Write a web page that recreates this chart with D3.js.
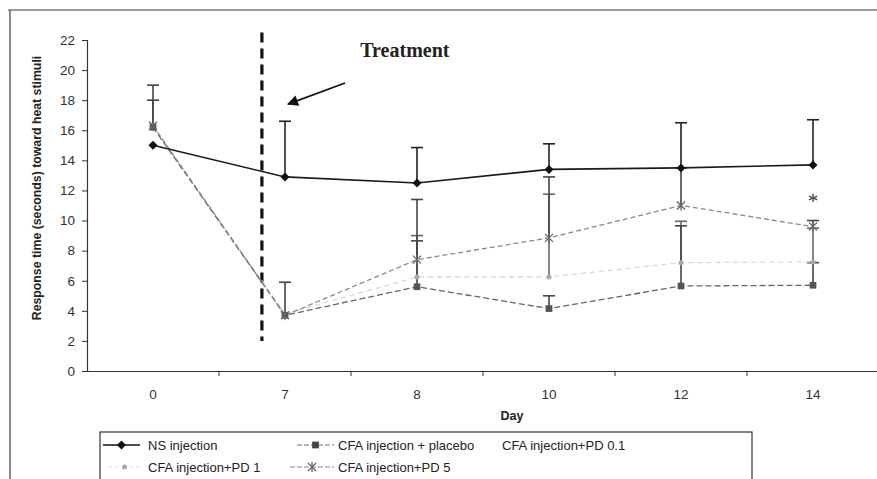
<!DOCTYPE html>
<html>
<head>
<meta charset="utf-8">
<script src="https://cdn.jsdelivr.net/npm/d3@7"></script>
<style>
  html, body { margin: 0; padding: 0; background: #fff; }
  svg { display: block; font-family: "Liberation Sans", Arial, sans-serif; }
</style>
</head>
<body>
<svg id="chart" width="877" height="479"></svg>
<script>
// ---------- data ----------
const days = ["0", "7", "8", "10", "12", "14"];
const yTicks = [0, 2, 4, 6, 8, 10, 12, 14, 16, 18, 20, 22];

const nsValues      = [15.0, 12.9, 12.5, 13.4, 13.5, 13.7];
const nsTop         = [null, 16.6, 14.85, 15.1, 16.5, 16.7];

const placeboValues = [16.2, 3.7, 5.6, 4.15, 5.65, 5.7];
const placeboTop    = [18.0, 5.9, 8.65, 5.0, 9.65, 7.2];

const pd01Values    = [];   // legend entry only (no visible marks)

const pd1Values     = [16.3, 3.8, 6.25, 6.25, 7.2, 7.25];
const pd1Top        = [null, null, 9.0, 11.75, 9.95, 9.5];

const pd5Values     = [16.3, 3.7, 7.4, 8.85, 11.0, 9.6];
const pd5Top        = [19.0, null, 11.4, 12.9, 13.5, 10.0];

const seriesNames = ["NS injection", "CFA injection + placebo", "CFA injection+PD 0.1",
                     "CFA injection+PD 1", "CFA injection+PD 5"];

const xLabel = "Day";
const yLabel = "Response time (seconds) toward heat stimuli";
const treatmentLabel = "Treatment";
const sigMark = { day: "14", value: 11.6, text: "*" };

// ---------- layout ----------
const SERIF = "'Liberation Serif', 'Times New Roman', serif";
const SANS = "'Liberation Sans', Arial, sans-serif";
const svg = d3.select("#chart");
const mLeft = 87, mRight = 879, mTop = 40, mBottom = 371;

const x = d3.scaleBand().domain(days).range([mLeft, mRight]).padding(0);
const xc = d => x(d) + x.bandwidth() / 2;
const y = d3.scaleLinear().domain([0, 22]).range([mBottom, mTop]);

// outer frame (partial, as in scan)
svg.append("line").attr("x1", 8).attr("x2", 877).attr("y1", 10).attr("y2", 10)
  .attr("stroke", "#777").attr("stroke-width", 1.5);
svg.append("line").attr("x1", 10).attr("x2", 10).attr("y1", 10).attr("y2", 479)
  .attr("stroke", "#666").attr("stroke-width", 1.5);

// y axis
const yAxis = svg.append("g").attr("transform", `translate(${mLeft},0)`)
  .call(d3.axisLeft(y).tickValues(yTicks).tickSize(5).tickPadding(7).tickFormat(d3.format("d")));
yAxis.select(".domain").attr("stroke", "#333").attr("stroke-width", 1.2);
yAxis.selectAll(".tick line").attr("stroke", "#333");
yAxis.selectAll("text").attr("font-size", 13.5).attr("fill", "#333").style("font-family", SANS);

// x axis
const xAxis = svg.append("g").attr("transform", `translate(0,${mBottom})`)
  .call(d3.axisBottom(x).tickSize(0).tickPadding(18).tickSizeOuter(0));
xAxis.select(".domain").attr("stroke", "#333").attr("stroke-width", 1.2);
xAxis.selectAll("text").attr("font-size", 13.5).attr("fill", "#333").style("font-family", SANS);
// tick marks on category boundaries
svg.append("g").selectAll("line").data(days.slice(1)).join("line")
  .attr("x1", d => x(d)).attr("x2", d => x(d))
  .attr("y1", mBottom).attr("y2", mBottom + 5)
  .attr("stroke", "#333");

// axis titles
svg.append("text").attr("x", 512).attr("y", 420).attr("text-anchor", "middle")
  .attr("font-size", 12.5).attr("font-weight", "bold").attr("fill", "#222").text(xLabel);
svg.append("text").attr("transform", `translate(41,${188}) rotate(-90)`)
  .attr("text-anchor", "middle").attr("font-size", 12.3).attr("font-weight", "bold")
  .attr("fill", "#222").text(yLabel);

// treatment dashed line (between day 0 and day 7)
const treatX = x("0") + x.bandwidth() * 1.325;
svg.append("line").attr("x1", treatX).attr("x2", treatX)
  .attr("y1", y(22.5)).attr("y2", y(2))
  .attr("stroke", "#111").attr("stroke-width", 3.2).attr("stroke-dasharray", "10,6");

// error bars (upper only)
function errorBars(vals, tops, color, width) {
  const data = days.map((d, i) => ({ d, v: vals[i], t: tops[i] })).filter(e => e.t != null && e.t > e.v);
  const g = svg.append("g").attr("stroke", color).attr("stroke-width", width);
  g.selectAll(".v").data(data).join("line")
    .attr("x1", e => xc(e.d)).attr("x2", e => xc(e.d))
    .attr("y1", e => y(e.v)).attr("y2", e => y(e.t));
  g.selectAll(".c").data(data).join("line")
    .attr("x1", e => xc(e.d) - 6).attr("x2", e => xc(e.d) + 6)
    .attr("y1", e => y(e.t)).attr("y2", e => y(e.t));
}
errorBars(pd1Values, pd1Top, "#666", 1.6);
errorBars(placeboValues, placeboTop, "#444", 1.6);
errorBars(pd5Values, pd5Top, "#444", 1.6);
errorBars(nsValues, nsTop, "#222", 1.6);

const line = d3.line().x((v, i) => xc(days[i])).y(v => y(v));

// series lines
svg.append("path").datum(pd1Values).attr("d", line).attr("fill", "none")
  .attr("stroke", "#d6d6d6").attr("stroke-width", 1.2).attr("stroke-dasharray", "5,4");
svg.append("path").datum(placeboValues).attr("d", line).attr("fill", "none")
  .attr("stroke", "#666").attr("stroke-width", 1.3).attr("stroke-dasharray", "6,3");
svg.append("path").datum(pd5Values).attr("d", line).attr("fill", "none")
  .attr("stroke", "#8a8a8a").attr("stroke-width", 1.3).attr("stroke-dasharray", "5,3");
svg.append("path").datum(nsValues).attr("d", line).attr("fill", "none")
  .attr("stroke", "#1a1a1a").attr("stroke-width", 1.6);

// markers
const diamond = "M0,-4.5L4.5,0L0,4.5L-4.5,0Z";
const square = d3.symbol().type(d3.symbolSquare).size(45);
const asterisk = "M-4,-4L4,4M-4,4L4,-4M0,-5L0,5";

function drawPD1(g, px, py) {
  g.append("circle").attr("cx", px).attr("cy", py).attr("r", 2.5).attr("fill", "#aaa");
}
function drawPD5(g, px, py) {
  g.append("path").attr("d", asterisk).attr("transform", `translate(${px},${py})`)
    .attr("stroke", "#666").attr("stroke-width", 1.3).attr("fill", "none");
}

svg.append("g").selectAll("circle").data(pd1Values).join("circle")
  .attr("cx", (v, i) => xc(days[i])).attr("cy", v => y(v)).attr("r", 2.5).attr("fill", "#aaa");
svg.append("g").selectAll("path").data(placeboValues).join("path")
  .attr("d", square).attr("transform", (v, i) => `translate(${xc(days[i])},${y(v)})`)
  .attr("fill", "#555");
svg.append("g").selectAll("path").data(pd5Values).join("path")
  .attr("d", asterisk).attr("transform", (v, i) => `translate(${xc(days[i])},${y(v)})`)
  .attr("stroke", "#666").attr("stroke-width", 1.3).attr("fill", "none");
svg.append("g").selectAll("path").data(nsValues).join("path")
  .attr("d", diamond).attr("transform", (v, i) => `translate(${xc(days[i])},${y(v)})`)
  .attr("fill", "#111");

// significance mark
svg.append("text").attr("x", xc(sigMark.day)).attr("y", y(sigMark.value)).attr("dy", "0.55em")
  .attr("text-anchor", "middle").style("font-family", SERIF)
  .attr("font-size", 21).attr("fill", "#333").text(sigMark.text);

// Treatment annotation and arrow
svg.append("text").attr("x", xc("7") + x.bandwidth() * 0.57).attr("y", y(20.86))
  .style("font-family", SERIF)
  .attr("font-size", 20).attr("font-weight", "bold").attr("fill", "#222").text(treatmentLabel);
svg.append("defs").append("marker").attr("id", "ah").attr("viewBox", "0 0 10 10")
  .attr("refX", 9).attr("refY", 5).attr("markerWidth", 14).attr("markerHeight", 11)
  .attr("markerUnits", "userSpaceOnUse").attr("orient", "auto")
  .append("path").attr("d", "M0,0L10,5L0,10Z").attr("fill", "#111");
svg.append("line")
  .attr("x1", xc("7") + x.bandwidth() * 0.455).attr("y1", y(19.14))
  .attr("x2", xc("7") + x.bandwidth() * 0.023).attr("y2", y(17.74))
  .attr("stroke", "#111").attr("stroke-width", 1.8).attr("marker-end", "url(#ah)");

// legend
const lg = svg.append("g");
lg.append("rect").attr("x", 100).attr("y", 432).attr("width", 652).attr("height", 60)
  .attr("fill", "#fff").attr("stroke", "#333").attr("stroke-width", 1.2);
const legendItems = [
  { name: seriesNames[0], sx: 103, tx: 148, ty: 445, kind: "ns" },
  { name: seriesNames[1], sx: 297, tx: 338, ty: 445, kind: "placebo" },
  { name: seriesNames[2], sx: 460, tx: 502, ty: 445, kind: "none" },
  { name: seriesNames[3], sx: 103, tx: 148, ty: 467, kind: "pd1" },
  { name: seriesNames[4], sx: 290, tx: 338, ty: 467, kind: "pd5" }
];
legendItems.forEach(it => {
  const cx = (it.sx + it.tx - 8) / 2;
  if (it.kind === "ns") {
    lg.append("line").attr("x1", it.sx).attr("x2", it.tx - 8).attr("y1", it.ty).attr("y2", it.ty)
      .attr("stroke", "#111").attr("stroke-width", 1.6);
    lg.append("path").attr("d", diamond).attr("transform", `translate(${cx},${it.ty})`).attr("fill", "#111");
  } else if (it.kind === "placebo") {
    lg.append("line").attr("x1", it.sx).attr("x2", it.tx - 4).attr("y1", it.ty).attr("y2", it.ty)
      .attr("stroke", "#777").attr("stroke-width", 1.2).attr("stroke-dasharray", "5,2");
    lg.append("path").attr("d", square).attr("transform", `translate(${(it.sx + it.tx - 4) / 2},${it.ty})`).attr("fill", "#444");
  } else if (it.kind === "pd1") {
    lg.append("line").attr("x1", it.sx + 5).attr("x2", it.tx - 8).attr("y1", it.ty).attr("y2", it.ty)
      .attr("stroke", "#ddd").attr("stroke-width", 1.2).attr("stroke-dasharray", "4,3");
    drawPD1(lg, cx + 3, it.ty);
  } else if (it.kind === "pd5") {
    lg.append("line").attr("x1", it.sx).attr("x2", it.tx - 4).attr("y1", it.ty).attr("y2", it.ty)
      .attr("stroke", "#888").attr("stroke-width", 1.2).attr("stroke-dasharray", "5,2");
    drawPD5(lg, (it.sx + it.tx - 4) / 2, it.ty);
  }
  lg.append("text").attr("x", it.tx).attr("y", it.ty).attr("dy", "0.35em")
    .attr("font-size", 13).attr("fill", "#222").text(it.name);
});
</script>
</body>
</html>
